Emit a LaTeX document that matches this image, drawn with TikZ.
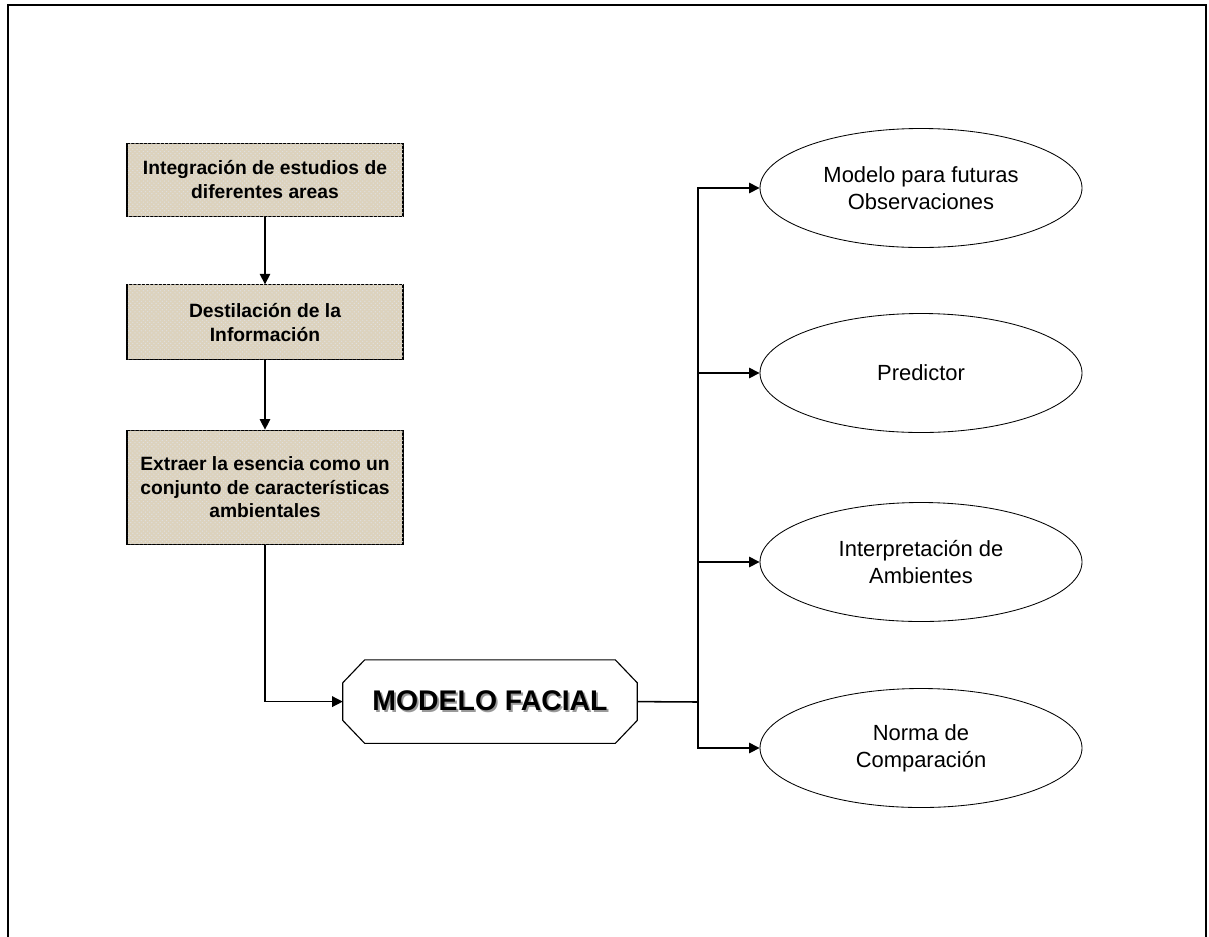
\documentclass[tikz,border=0pt]{standalone}
\usepackage{fontspec}
\setmainfont{Liberation Sans}
\usepackage{tikz}
\usetikzlibrary{arrows.meta,shapes.geometric,patterns}

\definecolor{papiro}{RGB}{220,210,189}

\begin{document}
\begin{tikzpicture}[
        paso/.style={draw=black, line width=0.8pt, fill=papiro,
                     postaction={pattern=crosshatch dots, pattern color=black!12},
                     minimum width=6.9cm, align=center,
                     font=\bfseries\fontsize{13.7}{17}\selectfont},
        uso/.style={ellipse, draw=black, line width=0.6pt, minimum width=8.05cm,
                    minimum height=2.975cm, inner sep=0pt, align=center,
                    font=\fontsize{15.6}{19.2}\selectfont},
        flecha/.style={line width=0.9pt, -{Triangle[length=7.5pt,width=7.5pt]}}
    ]
        \useasboundingbox (0,0) rectangle (30.225,-23.4);

        % page frame, open at the bottom
        \draw[line width=1.4pt] (0.2,-23.6) |- (30.15,-0.125) -- (30.15,-23.6);

        % steps on the left
        \node[paso, minimum height=1.825cm] (integracion) at (6.625,-4.49)
            {Integración de estudios de\\diferentes areas};
        \node[paso, minimum height=1.875cm] (destilacion) at (6.625,-8.06)
            {Destilación de la\\Información};
        \node[paso, minimum height=2.85cm] (extraer) at (6.625,-12.18)
            {Extraer la esencia como un\\conjunto de características\\ambientales};

        \draw[flecha] (integracion) -- (destilacion);
        \draw[flecha] (destilacion) -- (extraer);

        % the facial model, octagon drawn round an empty node
        \node[minimum width=7.35cm, minimum height=2.075cm, inner sep=0pt,
              font=\bfseries\fontsize{20.2}{24}\selectfont] (facial) at (12.25,-17.54)
            {\makebox[0pt][l]{\hspace{1.3pt}\raisebox{-1.3pt}{\color{black!40}MODELO FACIAL}}MODELO FACIAL};
        \draw[line width=0.8pt] ([xshift=0.55cm]facial.north west) -- ([xshift=-0.55cm]facial.north east)
            -- ([yshift=-0.575cm]facial.north east) -- ([yshift=0.575cm]facial.south east)
            -- ([xshift=-0.55cm]facial.south east) -- ([xshift=0.55cm]facial.south west)
            -- ([yshift=0.575cm]facial.south west) -- ([yshift=-0.575cm]facial.north west) -- cycle;

        \draw[flecha] (extraer) |- (facial);

        % uses of the model
        \node[uso] (futuras) at (23.025,-4.7) {Modelo para futuras\\Observaciones};
        \node[uso] (predictor) at (23.025,-9.325) {Predictor};
        \node[uso] (interpretacion) at (23.025,-14.05) {Interpretación de\\Ambientes};
        \node[uso] (norma) at (23.025,-18.7) {Norma de\\Comparación};

        % branching point
        \coordinate (rama) at (17.45,-17.55);
        \draw[line width=1.1pt] (facial.east) -- (rama);
        \foreach \u in {futuras,predictor,interpretacion,norma}
            \draw[flecha] (rama) |- (\u.west);
\end{tikzpicture}
\end{document}
